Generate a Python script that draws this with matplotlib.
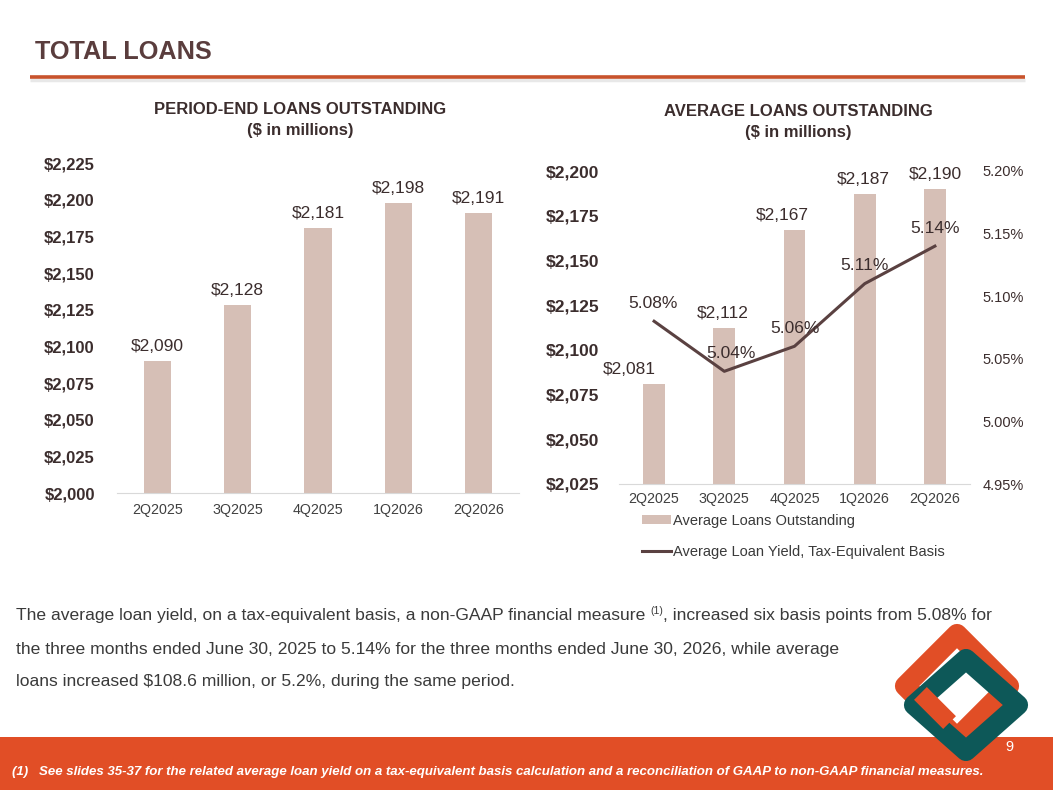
import matplotlib
matplotlib.use('Agg')
import matplotlib.pyplot as plt
from matplotlib.patches import Rectangle, Polygon
from matplotlib.lines import Line2D
from matplotlib.patches import Patch

plt.rcParams['font.family'] = ['Liberation Sans', 'DejaVu Sans']

# ---------------- data ----------------
quarters = ['2Q2025', '3Q2025', '4Q2025', '1Q2026', '2Q2026']
period_end_loans = [2090, 2128, 2181, 2198, 2191]
average_loans = [2081, 2112, 2167, 2187, 2190]
avg_loan_yield = [5.08, 5.04, 5.06, 5.11, 5.14]
left_ticks = [2000, 2025, 2050, 2075, 2100, 2125, 2150, 2175, 2200, 2225]
right_ticks = [2025, 2050, 2075, 2100, 2125, 2150, 2175, 2200]
yield_ticks = [4.95, 5.00, 5.05, 5.10, 5.15, 5.20]

# ---------------- style ----------------
W, H = 1053, 790
TITLE_C = '#5a3d3d'
DARK = '#3b2d2d'
TXT = '#3a3a3a'
BAR_C = '#d6bfb6'
LINE_C = '#5a4141'
RULE_C = '#c8532c'
ORANGE = '#e14e26'
TEAL = '#0d5858'
AXIS_C = '#d9d9d9'

fig = plt.figure(figsize=(W / 100, H / 100), dpi=100)
bg = fig.add_axes([0, 0, 1, 1])
bg.set_xlim(0, W)
bg.set_ylim(H, 0)
bg.axis('off')

# title + rule
bg.text(35, 52, 'TOTAL LOANS', fontsize=18.2, fontweight='bold', color=TITLE_C,
        va='center', ha='left')
bg.plot([30, 1025], [80, 80], color='#e8e8e8', lw=2.5, solid_capstyle='butt')
bg.plot([30, 1025], [77, 77], color=RULE_C, lw=2.6, solid_capstyle='butt')

# subtitles
bg.text(300, 110, 'PERIOD-END LOANS OUTSTANDING', fontsize=12, fontweight='bold',
        color=DARK, ha='center', va='center')
bg.text(300, 130, '($ in millions)', fontsize=12, fontweight='bold',
        color=DARK, ha='center', va='center')
bg.text(798, 112, 'AVERAGE LOANS OUTSTANDING', fontsize=12, fontweight='bold',
        color=DARK, ha='center', va='center')
bg.text(798, 132, '($ in millions)', fontsize=12, fontweight='bold',
        color=DARK, ha='center', va='center')

# footer band
bg.add_patch(Rectangle((0, 737), W, H - 737, color=ORANGE, lw=0))
bg.text(12, 772, '(1)   See slides 35-37 for the related average loan yield on a tax-equivalent basis '
        'calculation and a reconciliation of GAAP to non-GAAP financial measures.',
        fontsize=9.5, fontweight='bold', style='italic', color='white', va='center', ha='left')

# logo (two interlocking rounded diamonds)
def diamond(cx, cy, rx, ry):
    return [(cx, cy - ry), (cx + rx, cy), (cx, cy + ry), (cx - rx, cy)]

od = diamond(957, 686, 52, 52)
td = diamond(966, 705, 52, 46)
bg.add_patch(Polygon(od, closed=True, fill=False, ec=ORANGE,
                     lw=14.5, joinstyle='round', zorder=3))
bg.add_patch(Polygon(td, closed=True, fill=False, ec=TEAL,
                     lw=14.5, joinstyle='round', zorder=4))
# orange passes over teal along the inner lower-left edge
lx, ly = od[3]
bx, by = od[2]
f0, f1 = 0.22, 0.78
bg.plot([lx + f0 * (bx - lx) + 4, lx + f1 * (bx - lx) + 4],
        [ly + f0 * (by - ly) - 4, ly + f1 * (by - ly) - 4],
        color=ORANGE, lw=13, solid_capstyle='butt', zorder=5)
bg.text(1009, 747, '9', fontsize=10.5, color='white', ha='center', va='center', zorder=6)

# body text
FS = 12.6
y0 = 620
t1 = bg.text(16, y0, 'The average loan yield, on a tax-equivalent basis, a non-GAAP financial measure ',
             fontsize=FS, color=TXT, va='baseline', ha='left')
sup = bg.annotate('(1)', xy=(1, y0 - 6), xycoords=(t1, 'data'), fontsize=7.5,
                  color=TXT, va='baseline', ha='left')
bg.annotate(', increased six basis points from 5.08% for', xy=(1, y0), xycoords=(sup, 'data'),
            fontsize=FS, color=TXT, va='baseline', ha='left')
bg.text(16, y0 + 34, 'the three months ended June 30, 2025 to 5.14% for the three months ended June 30, 2026, while average',
        fontsize=FS, color=TXT, va='baseline', ha='left')
bg.text(16, y0 + 66, 'loans increased $108.6 million, or 5.2%, during the same period.',
        fontsize=FS, color=TXT, va='baseline', ha='left')

# ---------------- left chart ----------------
x = list(range(len(quarters)))
ax1 = fig.add_axes([117 / W, 1 - 493 / H, 402 / W, 330 / H])
ax1.bar(x, period_end_loans, width=0.34, color=BAR_C, zorder=2)
ax1.set_xlim(-0.5, 4.5)
ax1.set_ylim(left_ticks[0], left_ticks[-1])
ax1.set_yticks(left_ticks)
ax1.set_yticklabels([f'${v:,}' for v in left_ticks], fontsize=12, fontweight='bold', color=DARK)
ax1.set_xticks(x)
ax1.set_xticklabels(quarters, fontsize=10.3, color='#404040')
ax1.tick_params(axis='y', length=0, pad=16)
ax1.tick_params(axis='x', length=0, pad=7)
for s in ['top', 'right', 'left']:
    ax1.spines[s].set_visible(False)
ax1.spines['bottom'].set_color(AXIS_C)
ax1.set_facecolor('none')
for i, v in enumerate(period_end_loans):
    ax1.annotate(f'${v:,}', xy=(i, v), xytext=(0, 5), textcoords='offset points',
                 ha='center', va='bottom', fontsize=12.5, color=DARK)

# ---------------- right chart ----------------
ax2 = fig.add_axes([619 / W, 1 - 484 / H, 351 / W, 313 / H])
ax2.bar(x, average_loans, width=0.31, color=BAR_C, zorder=2)
ax2.set_xlim(-0.5, 4.5)
ax2.set_ylim(right_ticks[0], right_ticks[-1])
ax2.set_yticks(right_ticks)
ax2.set_yticklabels([f'${v:,}' for v in right_ticks], fontsize=12.5, fontweight='bold', color=DARK)
ax2.set_xticks(x)
ax2.set_xticklabels(quarters, fontsize=10.3, color='#404040')
ax2.tick_params(axis='y', length=0, pad=14)
ax2.tick_params(axis='x', length=0, pad=6)
for s in ['top', 'right', 'left']:
    ax2.spines[s].set_visible(False)
ax2.spines['bottom'].set_color(AXIS_C)
ax2.set_facecolor('none')
bar_nudge = [-18, -1, -9, -1, 0]
for i, v in enumerate(average_loans):
    ax2.annotate(f'${v:,}', xy=(i, v), xytext=(bar_nudge[i], 5), textcoords='offset points',
                 ha='center', va='bottom', fontsize=12.5, color=DARK, zorder=5)

ax3 = ax2.twinx()
ax3.set_ylim(yield_ticks[0], yield_ticks[-1])
ax3.plot(x, avg_loan_yield, color=LINE_C, lw=2.2, zorder=4)
ax3.set_yticks(yield_ticks)
ax3.set_yticklabels([f'{v:.2f}%' for v in yield_ticks], fontsize=10.5, color=DARK)
ax3.tick_params(axis='y', length=0, pad=9)
for s in ['top', 'right', 'left', 'bottom']:
    ax3.spines[s].set_visible(False)
line_nudge = [-1, 5, 0, 0, 0]
for i, v in enumerate(avg_loan_yield):
    ax3.annotate(f'{v:.2f}%', xy=(i, v), xytext=(line_nudge[i], 13), textcoords='offset points',
                 ha='center', va='center', fontsize=12.5, color=DARK, zorder=6)

handles = [Patch(facecolor=BAR_C, edgecolor='none'), Line2D([0], [0], color=LINE_C, lw=2.2)]
fig.legend(handles, ['Average Loans Outstanding', 'Average Loan Yield, Tax-Equivalent Basis'],
           loc='upper left', bbox_to_anchor=(642 / W, 1 - 514 / H), frameon=False,
           fontsize=10.5, labelspacing=1.15, handlelength=2.0, handleheight=0.55,
           handletextpad=0.15, borderaxespad=0, borderpad=0, labelcolor=TXT)

fig.savefig('out.png', dpi=100)
